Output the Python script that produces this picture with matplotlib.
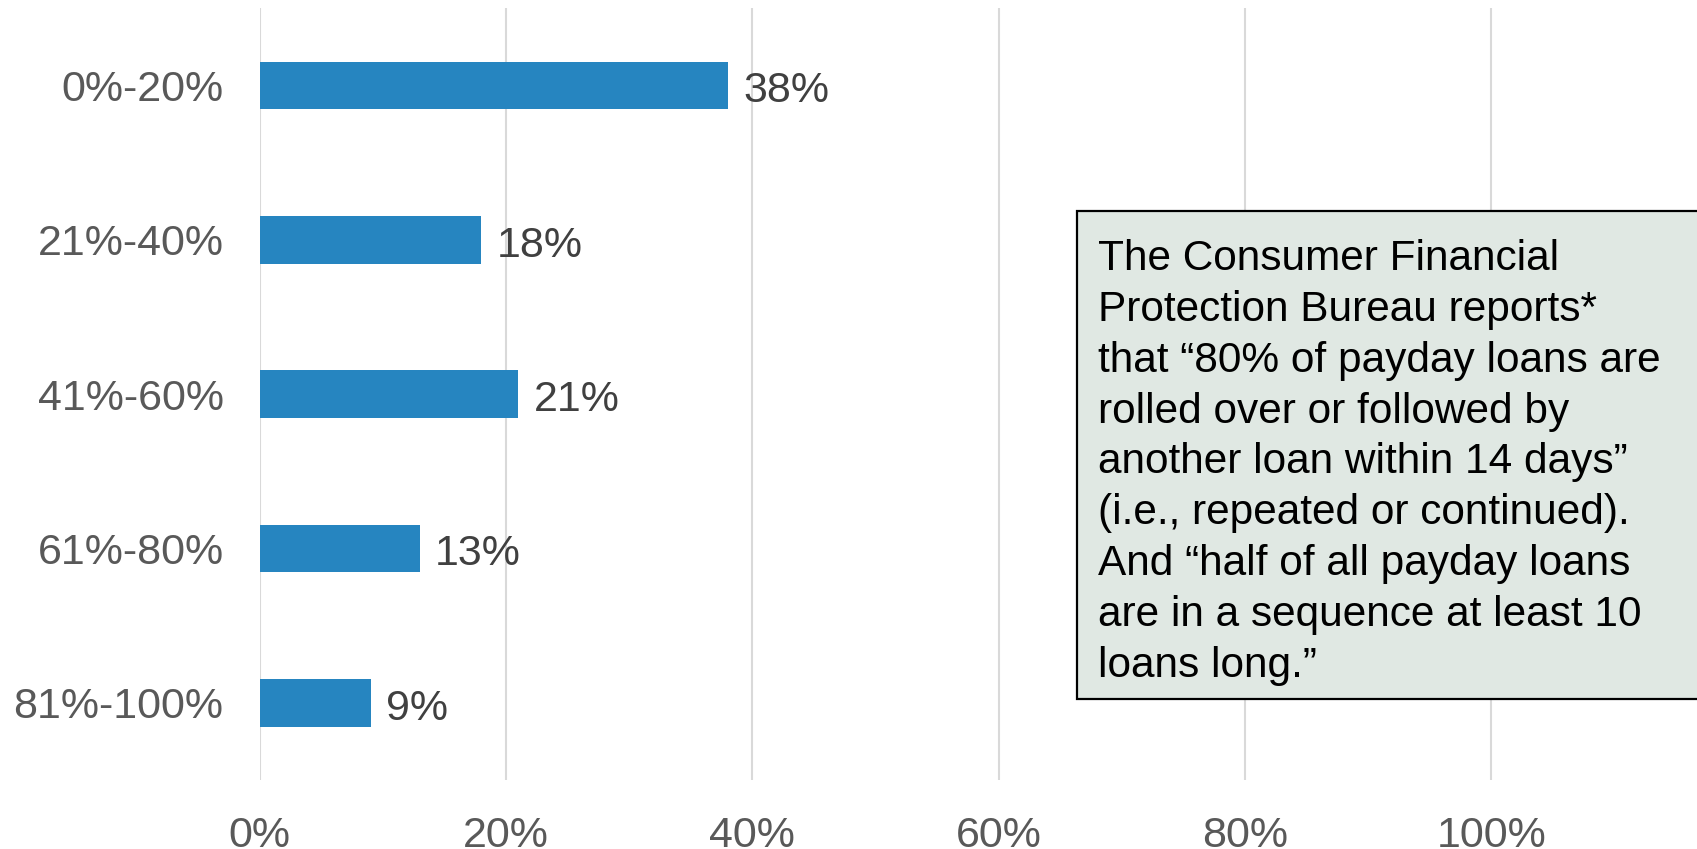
"""Barras horizontais: parcela de empréstimos por faixa, com nota do CFPB."""

import matplotlib
matplotlib.use("Agg")
import matplotlib.pyplot as plt
from matplotlib.patches import Rectangle
from matplotlib.ticker import FuncFormatter

plt.rcParams.update({
    "font.family": ["Liberation Sans", "DejaVu Sans"],
    "font.size": 31,
})

# dados
categorias = ["0%-20%", "21%-40%", "41%-60%", "61%-80%", "81%-100%"]
valores = [0.38, 0.18, 0.21, 0.13, 0.09]
rotulos = ["38%", "18%", "21%", "13%", "9%"]
ticks_x = [0.0, 0.2, 0.4, 0.6, 0.8, 1.0]

nota = ("The Consumer Financial\n"
        "Protection Bureau reports*\n"
        "that \u201c80% of payday loans are\n"
        "rolled over or followed by\n"
        "another loan within 14 days\u201d\n"
        "(i.e., repeated or continued).\n"
        "And \u201chalf of all payday loans\n"
        "are in a sequence at least 10\n"
        "loans long.\u201d")

_CLR_BAR = "#2685C0"
_CLR_GRID = "#D9D9D9"
_CLR_TICK = "#595959"
_CLR_VAL = "#404040"

W, H = 1697, 849
fig = plt.figure(figsize=(W / 100, H / 100), dpi=100)
ax = fig.add_axes([259.7 / W, 1 - 780 / H, 1 - 259.7 / W, (780 - 8.3) / H])

pos = list(range(len(categorias)))
ax.barh(pos, valores, height=0.31, color=_CLR_BAR, zorder=3)

for p, v, r in zip(pos, valores, rotulos):
    ax.annotate(r, xy=(v, p), xytext=(11, -1), textcoords="offset points",
                ha="left", va="center_baseline", color=_CLR_VAL, fontsize=31)

ax.set_xlim(0, (W - 259.7) / 1231.6)
ax.set_ylim(4.5, -0.5)
ax.set_xticks(ticks_x)
ax.xaxis.set_major_formatter(FuncFormatter(lambda x, _: f"{x * 100:.0f}%"))
ax.set_yticks(pos)
ax.set_yticklabels(categorias, va="center_baseline")
ax.tick_params(axis="x", length=0, pad=26, colors=_CLR_TICK, labelsize=31)
ax.tick_params(axis="y", length=0, pad=26, colors=_CLR_TICK, labelsize=31)
ax.grid(True, axis="x", color=_CLR_GRID, linewidth=1.5, zorder=0)
for s in ax.spines.values():
    s.set_visible(False)

# caixa de nota
caixa = Rectangle((1077 / W, 1 - 699 / H), 700 / W, (699 - 211) / H,
                  transform=fig.transFigure, facecolor="#E0E8E3",
                  edgecolor="black", linewidth=1.6, zorder=5, clip_on=False)
fig.patches.append(caixa)
fig.text(1098 / W, 1 - 239 / H, nota, ha="left", va="top", fontsize=30.5,
         color="black", linespacing=1.35, zorder=6)

fig.savefig("out.png", dpi=100)
